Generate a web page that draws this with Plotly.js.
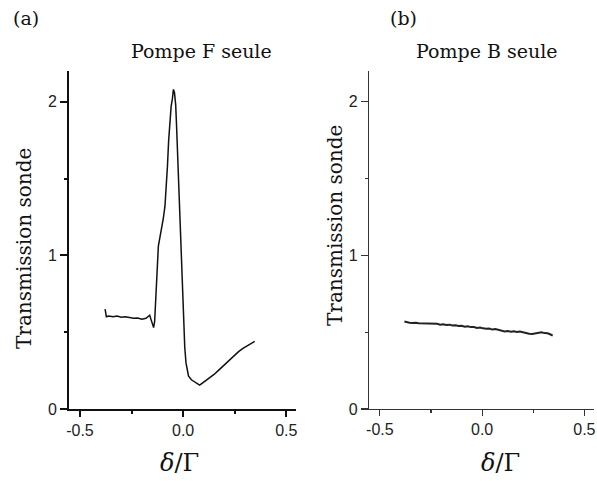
<!DOCTYPE html>
<html>
<head>
<meta charset="utf-8">
<script src="https://cdn.plot.ly/plotly-3.0.1.min.js"></script>
<style>html,body{margin:0;padding:0;background:#fff;}#chart{width:597px;height:481px;}</style>
</head>
<body>
<div id="chart"></div>
<script>
// Panel (a): Pompe F seule
const xF = [-0.378,-0.372,-0.36,-0.34,-0.32,-0.30,-0.28,-0.26,-0.24,-0.22,-0.20,-0.18,-0.17,-0.162,-0.155,-0.148,-0.143,-0.138,-0.133,-0.128,-0.124,-0.120,-0.112,-0.104,-0.096,-0.088,-0.082,-0.076,-0.070,-0.064,-0.058,-0.052,-0.047,-0.042,-0.036,-0.032,-0.028,-0.022,-0.016,-0.010,-0.004,0.0,0.004,0.008,0.014,0.020,0.026,0.040,0.055,0.070,0.080,0.095,0.110,0.130,0.150,0.170,0.190,0.210,0.230,0.250,0.270,0.290,0.310,0.330,0.347];
const yF = [0.65,0.60,0.605,0.60,0.605,0.598,0.60,0.595,0.59,0.592,0.585,0.59,0.60,0.61,0.58,0.54,0.53,0.57,0.70,0.85,0.98,1.06,1.12,1.17,1.24,1.32,1.42,1.58,1.75,1.90,1.97,2.02,2.08,2.06,1.98,1.85,1.70,1.50,1.22,0.95,0.76,0.68,0.52,0.40,0.30,0.245,0.215,0.19,0.175,0.16,0.155,0.17,0.185,0.20,0.225,0.25,0.275,0.305,0.33,0.355,0.375,0.395,0.41,0.425,0.44];
// Panel (b): Pompe B seule
const xB = [-0.380,-0.370,-0.355,-0.340,-0.325,-0.310,-0.295,-0.280,-0.265,-0.250,-0.235,-0.220,-0.205,-0.190,-0.175,-0.160,-0.145,-0.130,-0.115,-0.100,-0.085,-0.070,-0.055,-0.040,-0.025,-0.010,0.005,0.020,0.035,0.050,0.065,0.080,0.095,0.110,0.125,0.140,0.155,0.170,0.185,0.200,0.215,0.230,0.245,0.260,0.275,0.290,0.305,0.320,0.335,0.345];
const yB = [0.570,0.565,0.562,0.560,0.562,0.558,0.557,0.556,0.554,0.556,0.552,0.555,0.549,0.551,0.547,0.549,0.543,0.545,0.540,0.542,0.535,0.538,0.533,0.534,0.528,0.531,0.525,0.522,0.524,0.517,0.520,0.514,0.510,0.505,0.508,0.503,0.506,0.501,0.504,0.498,0.495,0.490,0.488,0.492,0.496,0.499,0.494,0.493,0.485,0.478];
const xTickVals = [-0.5, 0.0, 0.5];
const xTickText = ['-0.5', '0.0', '0.5'];
const yTickVals = [0, 1, 2];
const yTickText = ['0', '1', '2'];
const panelTitles = ['Pompe F seule', 'Pompe B seule'];
const panelLabels = ['(a)', '(b)'];
const yTitle = 'Transmission sonde';
const xTitle = '<i>δ</i>/Γ';

const serif = 'DejaVu Serif, serif';
const sans = 'Liberation Sans, Arial, sans-serif';

const traces = [
  {x: xF, y: yF, xaxis: 'x', yaxis: 'y', mode: 'lines', line: {color: '#111', width: 1.5}, hoverinfo: 'skip', showlegend: false},
  {x: xB, y: yB, xaxis: 'x2', yaxis: 'y2', mode: 'lines', line: {color: '#222', width: 2}, hoverinfo: 'skip', showlegend: false}
];

function xax(domain, lw, anchor) {
  const c = lw > 1.5 ? '#111' : '#333';
  return {
    domain: domain, anchor: anchor, range: [-0.553, 0.547], showgrid: false, zeroline: false,
    showline: true, linecolor: c, linewidth: lw,
    ticks: 'outside', ticklen: 6, tickwidth: lw, tickcolor: c,
    tickvals: xTickVals, ticktext: xTickText,
    minor: {tickvals: [-0.25, 0.25], ticks: 'outside', ticklen: 3, tickwidth: lw, tickcolor: c},
    tickfont: {family: sans, size: 16, color: '#222'}, fixedrange: true
  };
}
function yax(domain, lw, anchor) {
  const c = lw > 1.5 ? '#111' : '#333';
  return {
    domain: domain, anchor: anchor, range: [0, 2.2], showgrid: false, zeroline: false,
    showline: true, linecolor: c, linewidth: lw,
    ticks: 'outside', ticklen: 7, tickwidth: lw, tickcolor: c,
    tickvals: yTickVals, ticktext: yTickText,
    minor: {tickvals: [0.5, 1.5], ticks: 'outside', ticklen: 3, tickwidth: lw, tickcolor: c},
    tickfont: {family: sans, size: 16, color: '#222'}, fixedrange: true
  };
}
const W = 597, H = 481;
const px = v => v / W, py = v => 1 - v / H;
function ann(text, x, y, size, angle) {
  return {text: text, x: px(x), y: py(y), xref: 'paper', yref: 'paper', xanchor: 'center', yanchor: 'middle',
    showarrow: false, textangle: angle || 0, font: {family: serif, size: size, color: '#111'}};
}

const layout = {
  width: W, height: H,
  margin: {l: 0, r: 0, t: 0, b: 0},
  paper_bgcolor: '#fff', plot_bgcolor: '#fff',
  xaxis: xax([px(69), px(296)], 2, 'y'),
  yaxis: yax([py(409), py(71)], 2, 'x'),
  xaxis2: xax([px(369), px(594)], 1.2, 'y2'),
  yaxis2: yax([py(409), py(71)], 1.2, 'x2'),
  annotations: [
    ann(panelLabels[0], 26, 18, 19),
    ann(panelLabels[1], 403, 18, 19),
    ann(panelTitles[0], 201, 51, 19),
    ann(panelTitles[1], 486, 51, 19),
    ann(yTitle, 24, 249, 20, -90),
    ann(yTitle, 335, 225, 20, -90),
    ann(xTitle, 180, 463, 24),
    ann(xTitle, 500, 463, 24)
  ]
};
Plotly.newPlot('chart', traces, layout, {displayModeBar: false, staticPlot: true});
</script>
</body>
</html>
